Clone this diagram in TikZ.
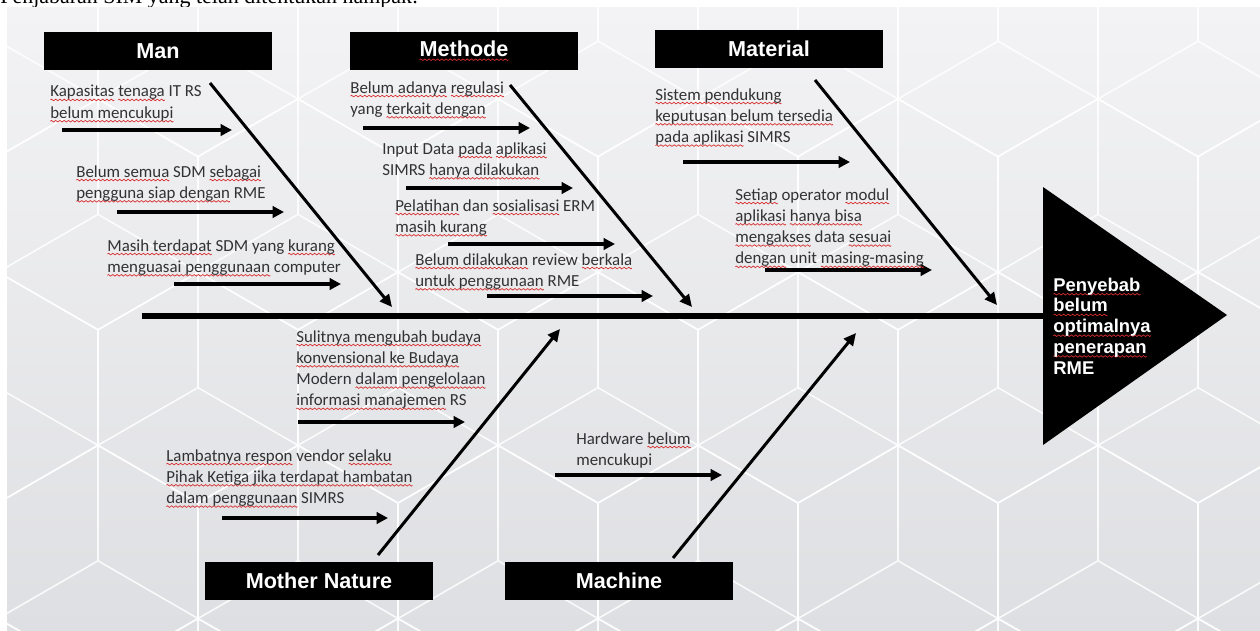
\documentclass[tikz,border=0pt]{standalone}
\usepackage{fontspec}
\setmainfont{Carlito}
\newfontfamily\arialfont{Liberation Sans}
\newfontfamily\timesfont{Liberation Serif}
\usetikzlibrary{arrows.meta}
\definecolor{txtgray}{RGB}{50,50,52}
\definecolor{wavered}{RGB}{215,45,45}
\definecolor{bgtop}{RGB}{243,243,245}
\definecolor{bgbot}{RGB}{222,223,226}
\newsavebox\wvbox
\AtBeginDocument{\sbox\wvbox{\begin{pgfpicture}
  \pgfpathrectangle{\pgfpoint{0pt}{-0.7pt}}{\pgfpoint{2.4pt}{1.4pt}}\pgfusepath{use as bounding box}
  \pgfsetlinewidth{0.4pt}\pgfsetstrokecolor{wavered}
  \pgfpathmoveto{\pgfpoint{0pt}{0pt}}
  \pgfpathquadraticcurveto{\pgfpoint{0.6pt}{0.9pt}}{\pgfpoint{1.2pt}{0pt}}
  \pgfpathquadraticcurveto{\pgfpoint{1.8pt}{-0.9pt}}{\pgfpoint{2.4pt}{0pt}}
  \pgfusepath{stroke}
\end{pgfpicture}}}
\newcommand\wv[1]{\setbox0=\hbox{#1}\leavevmode\rlap{\raisebox{-2.4pt}{\hbox to\wd0{\xleaders\copy\wvbox\hfill}}}#1}
\tikzset{
  catbox/.style={fill=black, text=white, font=\arialfont\bfseries\fontsize{12.3}{14}\selectfont, minimum width=4.56cm, minimum height=0.76cm, inner sep=0pt},
  cause/.style={anchor=north west, align=left, inner sep=0pt, text=txtgray, font=\fontsize{9.6}{12.1}\selectfont},
  bone/.style={line width=1.7pt, -{Stealth[inset=0pt,length=7pt,width=6.5pt]}},
  subarrow/.style={line width=1.9pt, -{Stealth[inset=0pt,length=6.5pt,width=6.5pt]}},
  bgline/.style={white, line width=0.9pt, opacity=0.85},
}

\begin{document}
\begin{tikzpicture}[x=0.02cm, y=-0.02cm]
\useasboundingbox (0,0) rectangle (1260,630);
\node[anchor=base west, inner sep=0pt, font=\timesfont\fontsize{12.5}{14}\selectfont] (caption) at (0,3) {Penjabaran SIM yang telah ditentukan nampak:};
\shade[top color=bgtop, bottom color=bgbot] (7,7) rectangle (1260,630);
\begin{scope}
  \clip (7,7) rectangle (1260,630);
  \foreach \r in {0,...,5}
    \foreach \j in {-1,...,6} {
      \pgfmathsetmacro\cy{-132+173.2*\r}
      \pgfmathsetmacro\cx{98+100*mod(\r,2)+200*\j}
      \draw[bgline] (\cx,\cy) ++(0,-115.5) -- ++(100,57.7) -- ++(0,115.5) -- ++(-100,57.7) -- ++(-100,-57.7) -- ++(0,-115.5) -- cycle;
      \draw[bgline] (\cx,\cy) -- ++(0,-115.5) (\cx,\cy) -- ++(-100,57.7) (\cx,\cy) -- ++(100,57.7);
    }
\end{scope}

\node[catbox] (man) at (158,51) {Man};
\node[catbox] (methode) at (464,51) {\wv{Methode}};
\node[catbox] (material) at (769,49) {Material};
\node[catbox] (nature) at (319,581) {Mother Nature};
\node[catbox] (machine) at (619,581) {Machine};

\coordinate (tri-t) at (1043,187);
\coordinate (tri-r) at (1227,315);
\coordinate (tri-b) at (1043,445);
\fill (tri-t) -- (tri-r) -- (tri-b) -- cycle;
\node[anchor=west, align=left, inner sep=0pt, text=white, font=\arialfont\bfseries\fontsize{10.5}{11.8}\selectfont] (effect) at (1053,326) {\wv{Penyebab}\\ \wv{belum}\\ \wv{optimalnya}\\ \wv{penerapan}\\ RME};

\coordinate (spine) at (142,316);
\draw[line width=3.4pt] (spine) -- (tri-t |- spine);

\foreach \n/\xa/\ya/\xb/\yb in {man/210/83/392/307, methode/510/85/692/307, material/815/80/997/305, nature/378/555/560/329, machine/673/558/856/333} {
  \coordinate (\n-from) at (\xa,\ya);
  \coordinate (\n-to) at (\xb,\yb);
  \draw[bone] (\n-from) -- (\n-to);
}

\foreach \n/\xa/\xb/\y in {m1/62/232/130, m2/117/284/212, m3/174/341/284, d1/363/530/128, d2/406/573/188, d3/448/615/244, d4/487/653/296, a1/683/850/162, a2/765/932/270, n1/298/465/422, n2/222/388/518, c1/555/722/475} {
  \coordinate (\n-s) at (\xa,\y);
  \coordinate (\n-e) at (\xb,\y);
  \draw[subarrow] (\n-s) -- (\n-e);
}

\node[cause] (t-m1) at (50,85) {\wv{Kapasitas} \wv{tenaga} IT RS\\ \wv{belum mencukupi}};
\node[cause] (t-m2) at (76,165) {\wv{Belum semua} SDM \wv{sebagai}\\ \wv{pengguna siap dengan} RME};
\node[cause] (t-m3) at (107,239) {\wv{Masih terdapat} SDM yang \wv{kurang}\\ \wv{menguasai penggunaan} computer};
\node[cause] (t-d1) at (350,81) {\wv{Belum adanya} \wv{regulasi}\\ yang \wv{terkait dengan}};
\node[cause] (t-d2) at (382,142) {Input Data \wv{pada} \wv{aplikasi}\\ SIMRS \wv{hanya dilakukan}};
\node[cause] (t-d3) at (395,199) {\wv{Pelatihan} dan \wv{sosialisasi} ERM\\ \wv{masih kurang}};
\node[cause] (t-d4) at (415,253) {\wv{Belum dilakukan} review \wv{berkala}\\ \wv{untuk penggunaan} RME};
\node[cause] (t-a1) at (655,88) {\wv{Sistem pendukung}\\ \wv{keputusan belum tersedia}\\ \wv{pada aplikasi} SIMRS};
\node[cause] (t-a2) at (735,188) {\wv{Setiap} operator \wv{modul}\\ \wv{aplikasi} \wv{hanya bisa}\\ \wv{mengakses} data \wv{sesuai}\\ \wv{dengan} unit \wv{masing-masing}};
\node[cause] (t-n1) at (296,330) {\wv{Sulitnya mengubah budaya}\\ \wv{konvensional ke Budaya}\\ Modern \wv{dalam pengelolaan}\\ \wv{informasi manajemen} RS};
\node[cause] (t-n2) at (166,449) {\wv{Lambatnya respon} vendor \wv{selaku}\\ \wv{Pihak Ketiga jika terdapat hambatan}\\ \wv{dalam penggunaan} SIMRS};
\node[cause] (t-c1) at (576,432) {Hardware \wv{belum}\\ mencukupi};
\end{tikzpicture}
\end{document}
